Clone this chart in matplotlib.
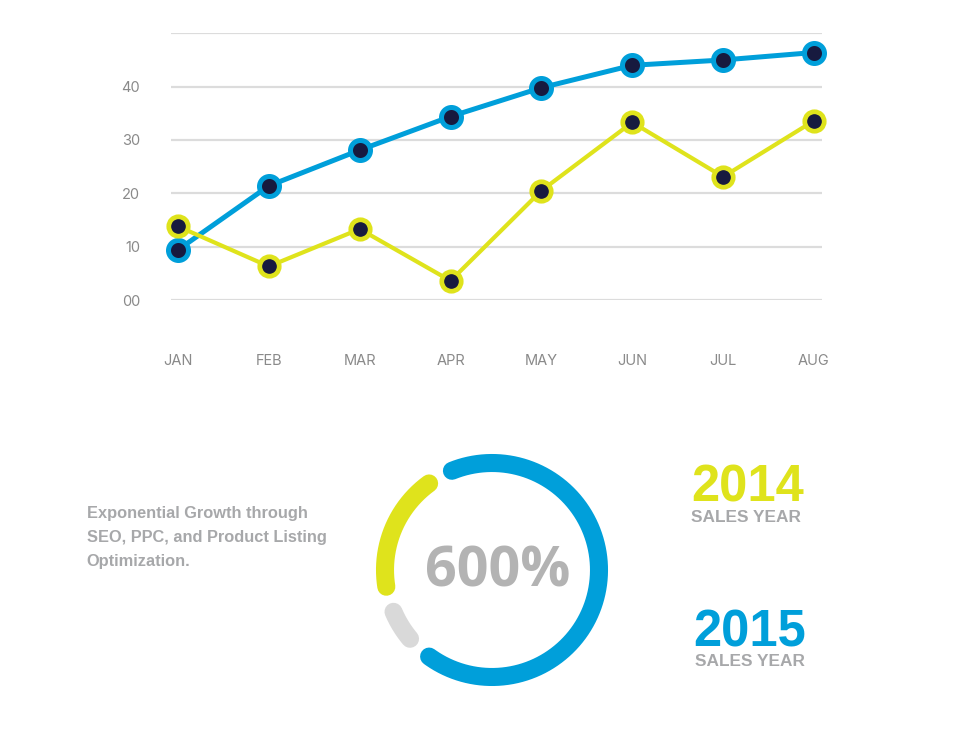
import matplotlib.pyplot as plt
import numpy as np

# monthly sales index
months = ['JAN', 'FEB', 'MAR', 'APR', 'MAY', 'JUN', 'JUL', 'AUG']
sales_2015 = [9.4, 21.4, 28.1, 34.4, 39.8, 44.0, 45.0, 46.4]
sales_2014 = [13.8, 6.3, 13.3, 3.6, 20.5, 33.3, 23.1, 33.6]
y_ticks = [0, 10, 20, 30, 40, 50]
y_labels = ['00', '10', '20', '30', '40', '']

# donut segments (start angle, end angle in degrees, counter-clockwise from 3 o'clock)
seg_2015 = (112, -126)
seg_2014 = (126, 189)
seg_rest = (203, 220)
growth_label = '600%'
blurb = ['Exponential Growth through', 'SEO, PPC, and Product Listing', 'Optimization.']

BLUE = '#009fda'
YELLOW = '#dfe31c'
NAVY = '#171a3f'
GRAY = '#a7a8aa'
TICK = '#8a8a8a'

W, H = 979, 734
fig = plt.figure(figsize=(W / 100, H / 100), dpi=100)


def px(x, y):
    return x / W, 1 - y / H


# ---- line chart ----
ax = fig.add_axes([170.7 / W, 1 - 300 / H, 651 / W, 266.7 / H])
x = np.arange(len(months))
ax.plot(x, sales_2015, color=BLUE, lw=3.6, zorder=3, clip_on=False)
ax.plot(x, sales_2014, color=YELLOW, lw=3.0, zorder=3, clip_on=False)
ax.plot(x, sales_2015, 'o', ms=14.4, mfc=NAVY, mec=BLUE, mew=3.6, zorder=4, clip_on=False)
ax.plot(x, sales_2014, 'o', ms=14.0, mfc=NAVY, mec=YELLOW, mew=3.4, zorder=4, clip_on=False)

ax.set_xlim(-0.08, 7.085)
ax.set_ylim(0, 50)
ax.set_yticks(y_ticks)
ax.set_yticklabels(y_labels)
ax.set_xticks(x)
ax.set_xticklabels(months)
ax.yaxis.grid(True, color='#dcdcdc', lw=1.6)
ax.set_axisbelow(True)
for s in ax.spines.values():
    s.set_visible(False)
ax.tick_params(axis='y', length=0, pad=22, labelsize=10.5, labelcolor=TICK)
ax.tick_params(axis='x', length=0, pad=39, labelsize=10.5, labelcolor=TICK)
for lab in ax.get_xticklabels() + ax.get_yticklabels():
    lab.set_fontfamily('Inter')

# ---- donut ----
cx, cy, half = 492, 570, 130
dax = fig.add_axes([(cx - half) / W, 1 - (cy + half) / H, 2 * half / W, 2 * half / H])
dax.set_xlim(-half, half)
dax.set_ylim(-half, half)
dax.axis('off')
r = 107
for (a0, a1), col in [(seg_rest, '#d9d9d9'), (seg_2014, YELLOW), (seg_2015, BLUE)]:
    t = np.radians(np.linspace(a0, a1, 200))
    dax.plot(r * np.cos(t), r * np.sin(t), color=col, lw=13, solid_capstyle='round', clip_on=False)

fig.text(*px(498, 586.7), growth_label, ha='center', va='baseline', fontsize=40,
         fontweight='bold', family='Open Sans', color='#b3b3b3')

# ---- side texts ----
for i, line in enumerate(blurb):
    fig.text(*px(86.7, 518.3 + 24 * i), line, ha='left', va='baseline', fontsize=11.8,
             fontweight='bold', family='Liberation Sans', color=GRAY)

fig.text(*px(691, 501.7), '2014', ha='left', va='baseline', fontsize=36.5,
         fontweight='bold', family='Liberation Sans', color=YELLOW)
fig.text(*px(691, 522.5), 'SALES YEAR', ha='left', va='baseline', fontsize=12.4,
         fontweight='bold', family='Liberation Sans', color=GRAY)
fig.text(*px(693, 646.7), '2015', ha='left', va='baseline', fontsize=36.5,
         fontweight='bold', family='Liberation Sans', color=BLUE)
fig.text(*px(695, 665.5), 'SALES YEAR', ha='left', va='baseline', fontsize=12.4,
         fontweight='bold', family='Liberation Sans', color=GRAY)

fig.savefig('out.png', dpi=100)
